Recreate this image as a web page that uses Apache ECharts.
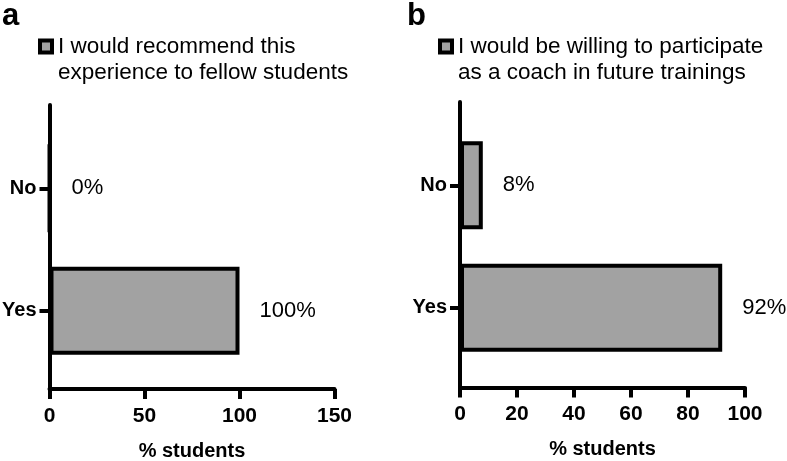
<!DOCTYPE html>
<html>
<head>
<meta charset="utf-8">
<script src="https://cdn.jsdelivr.net/npm/echarts@6/dist/echarts.min.js"></script>
<style>html,body{margin:0;padding:0;background:#fff}#c{width:787px;height:461px}</style>
</head>
<body>
<div id="c"></div>
<script>
const categories = ['No', 'Yes'];
const seriesA = 'I would recommend this\nexperience to fellow students';
const seriesB = 'I would be willing to participate\nas a coach in future trainings';
const valuesA = [0, 100];
const valuesB = [8, 92];
const ticksA = { min: 0, max: 150, interval: 50 };
const ticksB = { min: 0, max: 100, interval: 20 };
const axisTitle = '% students';
const panelLetters = ['a', 'b'];

const FONT = '"Liberation Sans", Arial, Helvetica, sans-serif';
const GRAY = '#a2a2a2';

function frameX(gi, t, margin) {
  return {
    type: 'value', gridIndex: gi, min: t.min, max: t.max, interval: t.interval,
    axisLine: { show: true, lineStyle: { color: '#000', width: 4 } },
    axisTick: { show: true, length: 10, lineStyle: { color: '#000', width: 4 } },
    axisLabel: { color: '#000', fontFamily: FONT, fontWeight: 'bold', fontSize: 21, margin: margin },
    splitLine: { show: false },
    name: axisTitle, nameLocation: 'middle', nameGap: 52,
    nameTextStyle: { color: '#000', fontFamily: FONT, fontWeight: 'bold', fontSize: 20 }
  };
}
function frameY(gi) {
  return {
    type: 'value', gridIndex: gi, min: 0, max: 1,
    axisLine: { show: true, onZero: false, lineStyle: { color: '#000', width: 4 } },
    axisTick: { show: false }, axisLabel: { show: false }, splitLine: { show: false }
  };
}
function barX(gi, t) {
  return { type: 'value', gridIndex: gi, min: t.min, max: t.max, show: false, splitLine: { show: false } };
}
function barY(gi) {
  return {
    type: 'category', gridIndex: gi, data: categories, inverse: true,
    axisLine: { show: false },
    axisTick: { show: true, alignWithLabel: true, length: 10, lineStyle: { color: '#000', width: 4 } },
    axisLabel: { color: '#000', fontFamily: FONT, fontWeight: 'bold', fontSize: 20, margin: 13 }
  };
}
function barSeries(name, xi, yi, vals) {
  return {
    name: name, type: 'bar', xAxisIndex: xi, yAxisIndex: yi, data: vals, barWidth: 88,
    itemStyle: { color: GRAY, borderColor: '#000', borderWidth: 4 },
    label: { show: true, position: 'right', distance: 20, formatter: '{c}%', color: '#000', fontFamily: FONT, fontSize: 22 },
    silent: true, animation: false
  };
}
function legend(name, left) {
  return {
    data: [name], left: left, top: 9, padding: 0, orient: 'vertical',
    icon: 'rect', itemWidth: 12, itemHeight: 12, selectedMode: false,
    itemStyle: { color: GRAY, borderColor: '#000', borderWidth: 4 },
    formatter: function (n) {
      return '{e| }\n' + n.split('\n').map(function (l) { return '{t|' + l + '}'; }).join('\n');
    },
    textStyle: {
      color: '#000', fontFamily: FONT, fontSize: 22.5,
      rich: {
        e: { fontSize: 22.5, lineHeight: 26, fontFamily: FONT },
        t: { fontSize: 22.5, lineHeight: 26, color: '#000', fontFamily: FONT, padding: [0, 0, 0, 1] }
      }
    }
  };
}
function grid(left, right, top, bottom) {
  return { left: left, right: right, top: top, bottom: bottom, containLabel: false, outerBoundsMode: 'none' };
}

const chart = echarts.init(document.getElementById('c'));
chart.setOption({
  animation: false,
  backgroundColor: '#fff',
  title: [
    { text: panelLetters[0], left: 2, top: 1, padding: 0, textStyle: { fontFamily: FONT, fontWeight: 'bold', fontSize: 31, color: '#000' } },
    { text: panelLetters[1], left: 407, top: 1, padding: 0, textStyle: { fontFamily: FONT, fontWeight: 'bold', fontSize: 31, color: '#000' } }
  ],
  legend: [legend(seriesA, 38), legend(seriesB, 438)],
  grid: [
    grid(49.5, 452.5, 105, 72),
    grid(49.5, 452.5, 127, 89),
    grid(460, 42, 102, 73.5),
    grid(460, 42, 124, 92)
  ],
  xAxis: [frameX(0, ticksA, 17), barX(1, ticksA), frameX(2, ticksB, 16), barX(3, ticksB)],
  yAxis: [frameY(0), barY(1), frameY(2), barY(3)],
  series: [barSeries(seriesA, 1, 1, valuesA), barSeries(seriesB, 3, 3, valuesB)]
});
</script>
</body>
</html>
